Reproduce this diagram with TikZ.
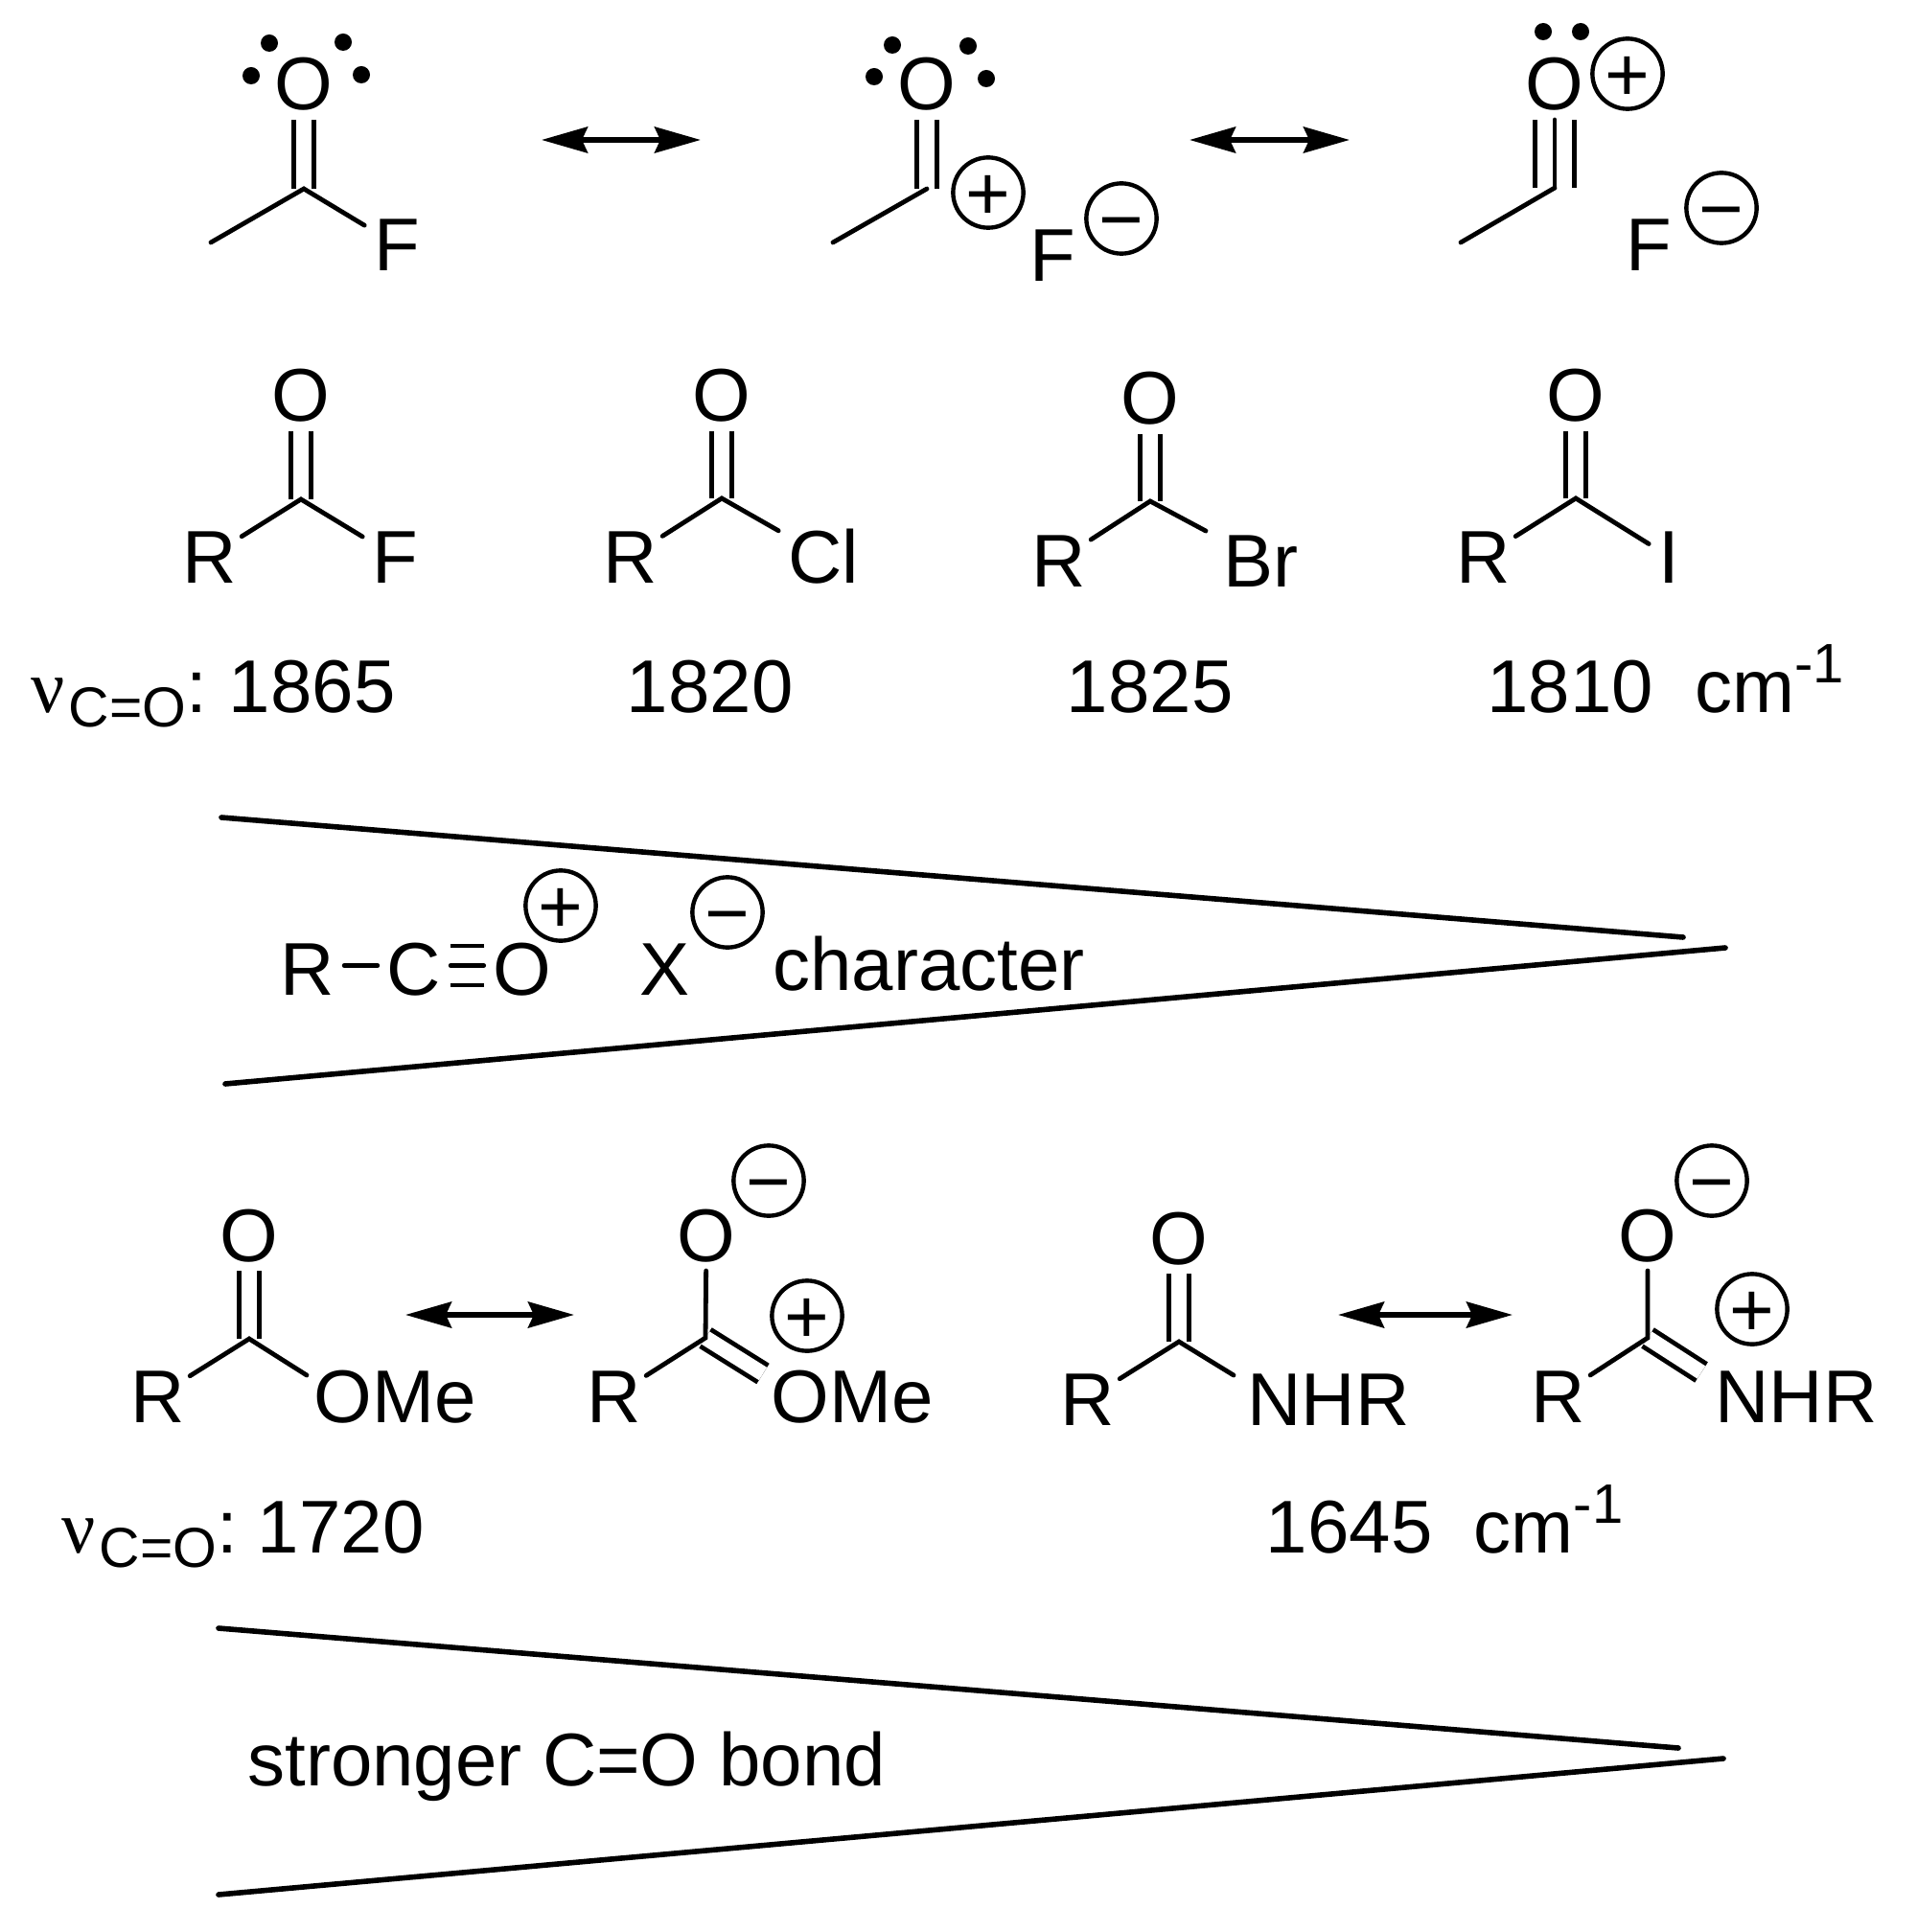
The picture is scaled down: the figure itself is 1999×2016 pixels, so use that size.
\documentclass[tikz,border=0pt]{standalone}
\usepackage{fontspec}
\setmainfont{Liberation Sans}
\newfontfamily\serifglyph{Liberation Serif}
\usetikzlibrary{arrows.meta}
\newcommand{\nulabel}{{\serifglyph ν}\hspace{2pt}\raisebox{-7.5pt}{\fontsize{29.4pt}{30pt}\selectfont C=O}:}
\newcommand{\invcm}{cm\raisebox{15.5pt}{\fontsize{29pt}{30pt}\selectfont -1}}
\tikzset{
  every node/.style = {font=\fontsize{39pt}{46pt}\selectfont},
  atom/.style = {inner sep=0pt, outer sep=5pt, anchor=base, text height=27.5pt, text depth=0pt},
  rgroup/.style = {atom, outer sep=2.5pt},
  txt/.style = {inner sep=0pt, anchor=base west},
  charge/.style = {shape=circle, draw, line width=2.2pt, inner sep=0pt, minimum size=35.6pt,
    font=\fontsize{40pt}{40pt}\selectfont, text height=28.2pt, text depth=0pt},
  lonepair/.style = {shape=circle, fill=black, inner sep=0pt, minimum size=9pt},
  bond/.style = {draw, line width=2.4pt, line cap=round},
  dblbond/.style = {draw, line width=2.4pt, double, double distance=7.85pt},
  tplbond/.style = {draw, line width=2.4pt, double, double distance=18.1pt},
  resonance/.style = {draw, line width=2.8pt, {Stealth[length=24pt,width=13.5pt,inset=3pt]}-{Stealth[length=24pt,width=13.5pt,inset=3pt]}},
  wedge/.style = {draw, line width=2.8pt, line cap=round}
}
\begin{document}
\begin{tikzpicture}[x=0.5pt, y=-0.5pt]
  \useasboundingbox (0,0) rectangle (1999,2016);

  % acetyl fluoride, resonance forms
  \coordinate (cA) at (317,197);
  \coordinate (meA) at (220,253);
  \node [atom] (oA) at (317,115) {O};
  \node [atom] (fA) at (414,283) {F};
  \draw [dblbond] (cA) -- (oA);
  \draw [bond] (meA) -- (cA) -- (fA);
  \node [lonepair] (dotA) at (281,45) {};
  \node [lonepair] (dotB) at (358,44) {};
  \node [lonepair] (dotC) at (262,79) {};
  \node [lonepair] (dotD) at (377,78) {};

  \coordinate (resAl) at (565,146);
  \coordinate (resAr) at (731,146);
  \draw [resonance] (resAl) -- (resAr);

  \coordinate (cB) at (967,197);
  \coordinate (meB) at (869,253);
  \node [atom] (oB) at (967,115) {O};
  \node [atom] (fB) at (1098,294) {F};
  \draw [dblbond] (cB) -- (oB);
  \draw [bond] (meB) -- (cB);
  \node [lonepair] (dotE) at (912,80) {};
  \node [lonepair] (dotF) at (931,47) {};
  \node [lonepair] (dotG) at (1010,48) {};
  \node [lonepair] (dotH) at (1029,82) {};
  \node [charge] (plusB) at (1031,201) {+};
  \node [charge] (minusB) at (1170,228) {−};

  \coordinate (resBl) at (1241,146);
  \coordinate (resBr) at (1408,146);
  \draw [resonance] (resBl) -- (resBr);

  \coordinate (cC) at (1622,196);
  \coordinate (meC) at (1524,253);
  \node [atom] (oC) at (1622,115) {O};
  \node [atom] (fC) at (1720,283) {F};
  \draw [tplbond] (cC) -- (oC);
  \draw [bond] (cC) -- (oC);
  \draw [bond] (meC) -- (cC);
  \node [lonepair] (dotI) at (1610,33) {};
  \node [lonepair] (dotJ) at (1649,33) {};
  \node [charge] (plusC) at (1698,77) {+};
  \node [charge] (minusC) at (1796,217) {−};

  % acyl halides
  \coordinate (cD) at (314,521);
  \node [atom] (oD) at (314,440) {O};
  \node [rgroup] (rD) at (219,608) {R};
  \node [atom] (xD) at (412,608) {F};
  \draw [dblbond] (cD) -- (oD);
  \draw [bond] (rD) -- (cD) -- (xD);

  \coordinate (cE) at (753,520);
  \node [atom] (oE) at (753,440) {O};
  \node [rgroup] (rE) at (658,608) {R};
  \node [atom] (xE) at (859,608) {Cl};
  \draw [dblbond] (cE) -- (oE);
  \draw [bond] (rE) -- (cE) -- (xE);

  \coordinate (cF) at (1200,523);
  \node [atom] (oF) at (1200,443) {O};
  \node [rgroup] (rF) at (1105,612) {R};
  \node [atom, outer sep=9pt] (xF) at (1315,612) {Br};
  \draw [dblbond] (cF) -- (oF);
  \draw [bond] (rF) -- (cF) -- (xF);

  \coordinate (cG) at (1644,520);
  \node [atom] (oG) at (1644,440) {O};
  \node [rgroup] (rG) at (1548,608) {R};
  \node [atom] (xG) at (1741,608) {I};
  \draw [dblbond] (cG) -- (oG);
  \draw [bond] (rG) -- (cG) -- (xG);

  \node [txt] (nuA) at (32,743) {\nulabel};
  \node [txt] (freqD) at (238.5,743) {1865};
  \node [txt] (freqE) at (653.5,743) {1820};
  \node [txt] (freqF) at (1112.5,743) {1825};
  \node [txt] (freqG) at (1551,743) {1810~~\invcm};

  % first wedge
  \coordinate (wedgeAa) at (231,853);
  \coordinate (wedgeAb) at (1756,978);
  \coordinate (wedgeAc) at (235,1131);
  \coordinate (wedgeAd) at (1800,989);
  \draw [wedge] (wedgeAa) -- (wedgeAb);
  \draw [wedge] (wedgeAc) -- (wedgeAd);
  \node [atom] (rW) at (321,1038) {R};
  \node [atom] (cW) at (432,1038) {C};
  \node [atom] (oW) at (545,1038) {O};
  \node [atom] (xW) at (694,1038) {X};
  \draw [bond] ([yshift=1.5pt]rW.east) -- ([yshift=1.5pt]cW.west);
  \draw [tplbond] ([yshift=1.5pt]cW.east) -- ([yshift=1.5pt]oW.west);
  \draw [bond] ([yshift=1.5pt]cW.east) -- ([yshift=1.5pt]oW.west);
  \node [charge] (plusW) at (585,945) {+};
  \node [charge] (minusW) at (759,952) {−};
  \node [txt] (charW) at (806,1033) {character};

  % ester and amide
  \coordinate (cH) at (260,1397);
  \node [atom] (oH) at (260,1316) {O};
  \node [rgroup] (rH) at (165,1484) {R};
  \node [atom] (omeH) at (412,1484) {OMe};
  \draw [dblbond] (cH) -- (oH);
  \draw [bond] (rH) -- (cH) -- ([shift={(1.25pt,-8pt)}]omeH.north west);

  \coordinate (resCl) at (423,1372);
  \coordinate (resCr) at (599,1372);
  \draw [resonance] (resCl) -- (resCr);

  \coordinate (cJ) at (736,1396);
  \node [atom] (oJ) at (737,1316) {O};
  \node [rgroup] (rJ) at (641,1484) {R};
  \node [atom] (omeJ) at (889,1484) {OMe};
  \draw [dblbond] (cJ) -- ([shift={(0.75pt,-7.25pt)}]omeJ.north west);
  \draw [bond] (oJ) -- (cJ) -- (rJ);
  \node [charge] (plusJ) at (842,1373) {+};
  \node [charge] (minusJ) at (802,1232) {−};

  \coordinate (cK) at (1230,1400);
  \node [atom] (oK) at (1230,1319) {O};
  \node [rgroup] (rK) at (1135,1487) {R};
  \node [atom] (nhrK) at (1386,1487) {NHR};
  \draw [dblbond] (cK) -- (oK);
  \draw [bond] (rK) -- (cK) -- ([shift={(-2.25pt,-6.5pt)}]nhrK.north west);

  \coordinate (resDl) at (1396,1372);
  \coordinate (resDr) at (1578,1372);
  \draw [resonance] (resDl) -- (resDr);

  \coordinate (cL) at (1719,1396);
  \node [atom] (oL) at (1719,1316) {O};
  \node [rgroup] (rL) at (1626,1484) {R};
  \node [atom] (nhrL) at (1874,1484) {NHR};
  \draw [dblbond] (cL) -- ([shift={(-2.25pt,-6.5pt)}]nhrL.north west);
  \draw [bond] (oL) -- (cL) -- (rL);
  \node [charge] (plusL) at (1828,1366) {+};
  \node [charge] (minusL) at (1786,1232) {−};

  \node [txt] (nuB) at (64,1620) {\nulabel};
  \node [txt] (freqH) at (268.5,1620) {1720};
  \node [txt] (freqK) at (1320.5,1620) {1645~~\invcm};

  % second wedge
  \coordinate (wedgeBa) at (228,1699);
  \coordinate (wedgeBb) at (1751,1824);
  \coordinate (wedgeBc) at (228,1977);
  \coordinate (wedgeBd) at (1798,1835);
  \draw [wedge] (wedgeBa) -- (wedgeBb);
  \draw [wedge] (wedgeBc) -- (wedgeBd);
  \node [txt] (strongB) at (258,1863) {stronger C=O bond};
\end{tikzpicture}
\end{document}
